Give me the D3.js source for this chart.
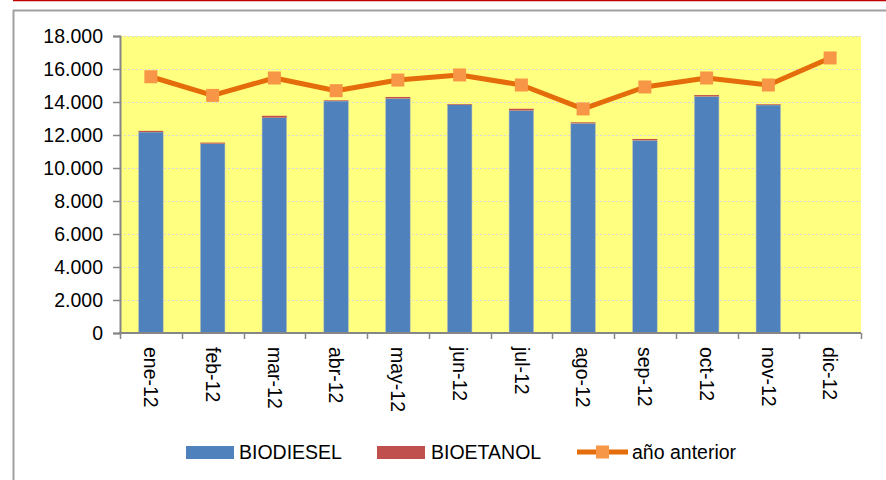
<!DOCTYPE html>
<html>
<head>
<meta charset="utf-8">
<script src="https://cdn.jsdelivr.net/npm/d3@7/dist/d3.min.js"></script>
<style>
  html, body { margin: 0; padding: 0; background: #fff; }
  svg { display: block; font-family: "Liberation Sans", Arial, sans-serif; }
</style>
</head>
<body>
<svg id="chart" width="886" height="480"></svg>
<script>
// Monthly categories (2012)
const months = ["ene-12","feb-12","mar-12","abr-12","may-12","jun-12",
                "jul-12","ago-12","sep-12","oct-12","nov-12","dic-12"];
// Stacked series
const biodiesel = [12180, 11480, 13055, 14060, 14220, 13840, 13490, 12710, 11680, 14340, 13820, null];
const bioetanol = [70, 60, 110, 40, 85, 40, 100, 60, 80, 80, 40, null];
// Previous-year line
const anioAnterior = [15530, 14400, 15455, 14685, 15330, 15640, 15030, 13580, 14910, 15455, 15030, 16670];
// Y axis ticks
const yTicks = [0, 2000, 4000, 6000, 8000, 10000, 12000, 14000, 16000, 18000];

const colors = { biodiesel: "#4F81BD", bioetanol: "#C0504D", line: "#E46C0A", marker: "#F79646" };
const fmt = v => d3.format(",")(v).replace(/,/g, ".");

const svg = d3.select("#chart");

// Frame
svg.append("line").attr("x1", 13).attr("x2", 886).attr("y1", 0.5).attr("y2", 0.5)
  .attr("stroke", "#C00000").attr("stroke-width", 1.5);
svg.append("line").attr("x1", 13).attr("x2", 886).attr("y1", 10.5).attr("y2", 10.5)
  .attr("stroke", "#A0A0A0").attr("stroke-width", 2);
svg.append("line").attr("x1", 13.5).attr("x2", 13.5).attr("y1", 10).attr("y2", 480)
  .attr("stroke", "#A0A0A0").attr("stroke-width", 2);

const x = d3.scaleBand().domain(months).range([120, 861]).paddingInner(0.6).paddingOuter(0.3);
const y = d3.scaleLinear().domain([0, 18000]).range([333, 36]);

// Plot area
svg.append("rect").attr("x", 120).attr("y", y(18000)).attr("width", 741).attr("height", y(0) - y(18000))
  .attr("fill", "#FFFF80");

// Gridlines
svg.append("g").selectAll("line").data(yTicks.filter(d => d > 0)).join("line")
  .attr("x1", 120).attr("x2", 861)
  .attr("y1", d => Math.round(y(d)) + 0.5).attr("y2", d => Math.round(y(d)) + 0.5)
  .attr("stroke", "#D9D9D9").attr("stroke-width", 1.2).attr("stroke-dasharray", "2,2");

// Stacked bars
const rows = months.map((m, i) => ({ m, b: biodiesel[i], e: bioetanol[i] })).filter(r => r.b != null);
const bars = svg.append("g");
bars.selectAll("rect.bio").data(rows).join("rect").attr("class", "bio")
  .attr("x", d => x(d.m)).attr("width", x.bandwidth())
  .attr("y", d => y(d.b)).attr("height", d => y(0) - y(d.b))
  .attr("fill", colors.biodiesel).attr("stroke", "#C9C9B0").attr("stroke-width", 0.6);
bars.selectAll("rect.eta").data(rows).join("rect").attr("class", "eta")
  .attr("x", d => x(d.m)).attr("width", x.bandwidth())
  .attr("y", d => y(d.b + d.e)).attr("height", d => y(d.b) - y(d.b + d.e))
  .attr("fill", colors.bioetanol);

// Y axis
const yAxis = d3.axisLeft(y).tickValues(yTicks).tickFormat(fmt).tickSize(7).tickPadding(10);
const gy = svg.append("g").attr("transform", "translate(120,0)").call(yAxis);
gy.select(".domain").attr("stroke", "#868686").attr("stroke-width", 2);
gy.selectAll(".tick line").attr("stroke", "#868686").attr("stroke-width", 1.5);
gy.selectAll(".tick text").attr("font-size", "19.5px").attr("fill", "#000")
  .attr("font-family", "'Liberation Sans', Arial, sans-serif");

// X axis
const gx = svg.append("g").attr("transform", "translate(0,333)");
gx.append("line").attr("x1", 119).attr("x2", 861).attr("y1", 0).attr("y2", 0)
  .attr("stroke", "#868686").attr("stroke-width", 2);
const bounds = d3.range(months.length + 1).map(i => 120 + i * x.step());
gx.selectAll("line.t").data(bounds).join("line").attr("class", "t")
  .attr("x1", d => Math.round(d) + 0.5).attr("x2", d => Math.round(d) + 0.5)
  .attr("y1", 0).attr("y2", 6).attr("stroke", "#868686").attr("stroke-width", 1.5);
gx.selectAll("text").data(months).join("text")
  .attr("transform", d => `translate(${x(d) + x.bandwidth() / 2},14) rotate(90)`)
  .attr("dy", "0.35em").attr("text-anchor", "start")
  .attr("font-size", "19.5px").attr("fill", "#000").text(d => d);

// Previous-year line with square markers
const cx = d => x(d) + x.bandwidth() / 2;
const pts = months.map((m, i) => [cx(m), y(anioAnterior[i])]);
svg.append("path").attr("d", d3.line()(pts)).attr("fill", "none")
  .attr("stroke", colors.line).attr("stroke-width", 5).attr("stroke-linejoin", "round");
svg.append("g").selectAll("rect").data(pts).join("rect")
  .attr("x", d => d[0] - 6.5).attr("y", d => d[1] - 6.5).attr("width", 13).attr("height", 13)
  .attr("fill", colors.marker);

// Legend
const ly = 452;
const leg = svg.append("g").attr("font-size", "19.5px");
leg.append("rect").attr("x", 186).attr("y", ly - 6).attr("width", 48).attr("height", 13).attr("fill", colors.biodiesel);
leg.append("text").attr("x", 239).attr("y", ly).attr("dy", "0.35em").text("BIODIESEL");
leg.append("rect").attr("x", 377).attr("y", ly - 6).attr("width", 48).attr("height", 13).attr("fill", colors.bioetanol);
leg.append("text").attr("x", 431).attr("y", ly).attr("dy", "0.35em").text("BIOETANOL");
leg.append("line").attr("x1", 577).attr("x2", 628).attr("y1", ly).attr("y2", ly)
  .attr("stroke", colors.line).attr("stroke-width", 5);
leg.append("rect").attr("x", 596).attr("y", ly - 6.5).attr("width", 13).attr("height", 13).attr("fill", colors.marker);
leg.append("text").attr("x", 632).attr("y", ly).attr("dy", "0.35em").text("año anterior");
</script>
</body>
</html>
